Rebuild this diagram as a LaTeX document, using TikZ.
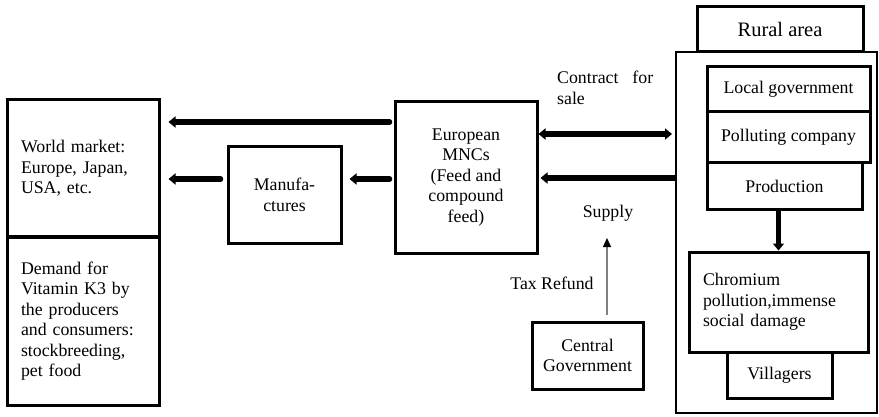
\documentclass[tikz,border=0pt]{standalone}
\usepackage{fontspec}
\setmainfont{Liberation Serif}
\usetikzlibrary{arrows.meta,positioning}

\newcommand{\boxfont}{\fontsize{17.8}{20.5}\selectfont}

\begin{document}
\begin{tikzpicture}[x=1pt, y=-1pt, font=\boxfont,
    box/.style={draw, line width=3pt, inner sep=0pt, align=center},
    leftbox/.style={box, align=left, inner xsep=14pt},
    flow/.style={line width=5.5pt, line cap=round, -{Triangle[width=11pt,length=7pt]}},
    taxflow/.style={gray, line width=1.3pt, -{Triangle[width=8pt,length=9pt,color=black]}}]

    \useasboundingbox (0,0) rectangle (879,417);

    % The world market on the left
    \node[leftbox, text width=124pt, minimum height=137pt] (world) at (83,168.5)
      {World market:\\Europe, Japan,\\USA, etc.};
    \node[leftbox, text width=124pt, minimum height=168pt] (demand) at (83,321)
      {Demand for\\Vitamin K3 by\\the producers\\and consumers:\\stockbreeding,\\pet food};

    % Manufactures and the European MNCs
    \node[box, minimum width=113pt, minimum height=96pt] (manu) at (284.5,195) {Manufa-\\ctures};
    \node[box, minimum width=142pt, minimum height=151pt] (euro) at (466,177.5)
      {European\\MNCs\\(Feed and\\compound\\feed)};

    % Central government below
    \node[box, minimum width=111pt, minimum height=67pt] (cgov) at (587.5,355.5) {Central\\Government};

    % The rural area with its boxes
    \node[draw, line width=2pt, minimum width=201pt, minimum height=361pt] (rural) at (776.5,232.5) {};
    \node[box, minimum width=166pt, minimum height=45pt, font=\fontsize{20.5}{24}\selectfont]
      (ruraltab) at (780,29.5) {Rural area};
    \node[box, minimum width=163pt, minimum height=45pt] (localgov) at (788.5,89.5) {Local government};
    \node[box, minimum width=163pt, minimum height=51pt] (company) at (788.5,137.5) {Polluting company};
    \node[box, minimum width=155pt, minimum height=47pt] (prod) at (784.5,186.5) {Production};
    \node[leftbox, text width=151pt, minimum height=100pt] (chrom) at (778.5,302)
      {Chromium\\pollution,immense\\social damage};
    \node[box, minimum width=105pt, minimum height=46pt] (villagers) at (779.5,375) {Villagers};

    % Flows to the world market
    \draw[flow, shorten <=4pt, shorten >=8pt] (euro.west |- 0,122) -- (world.east |- 0,122);
    \draw[flow, shorten <=4pt, shorten >=7pt] (euro.west |- 0,179) -- (manu.east |- 0,179);
    \draw[flow, shorten <=6pt, shorten >=8pt] (manu.west |- 0,179) -- (world.east |- 0,179);

    % Contract and supply between the MNCs and the rural area
    \draw[flow, {Triangle[width=11pt,length=7pt]}-{Triangle[width=11pt,length=7pt]}, shorten >=3pt]
      (euro.east |- 0,134) -- (rural.west |- 0,134);
    \draw[flow, line cap=butt, shorten >=2pt] (rural.west |- 0,178) -- (euro.east |- 0,178);
    \node[anchor=north west, text width=96pt, align=justify, inner sep=0pt] (contract) at (557,71)
      {Contract for sale};
    \node (supply) at (608,213) {Supply};

    % Production causes the pollution
    \draw[flow, line width=5pt, line cap=butt] (prod.south -| chrom.north) -- (chrom.north);

    % Tax refund from the central government
    \coordinate (taxtop) at (607,238);
    \draw[taxflow, shorten <=6pt] (cgov.north -| taxtop) -- (taxtop);
    \node (tax) at (552,283) {Tax Refund};
\end{tikzpicture}
\end{document}
